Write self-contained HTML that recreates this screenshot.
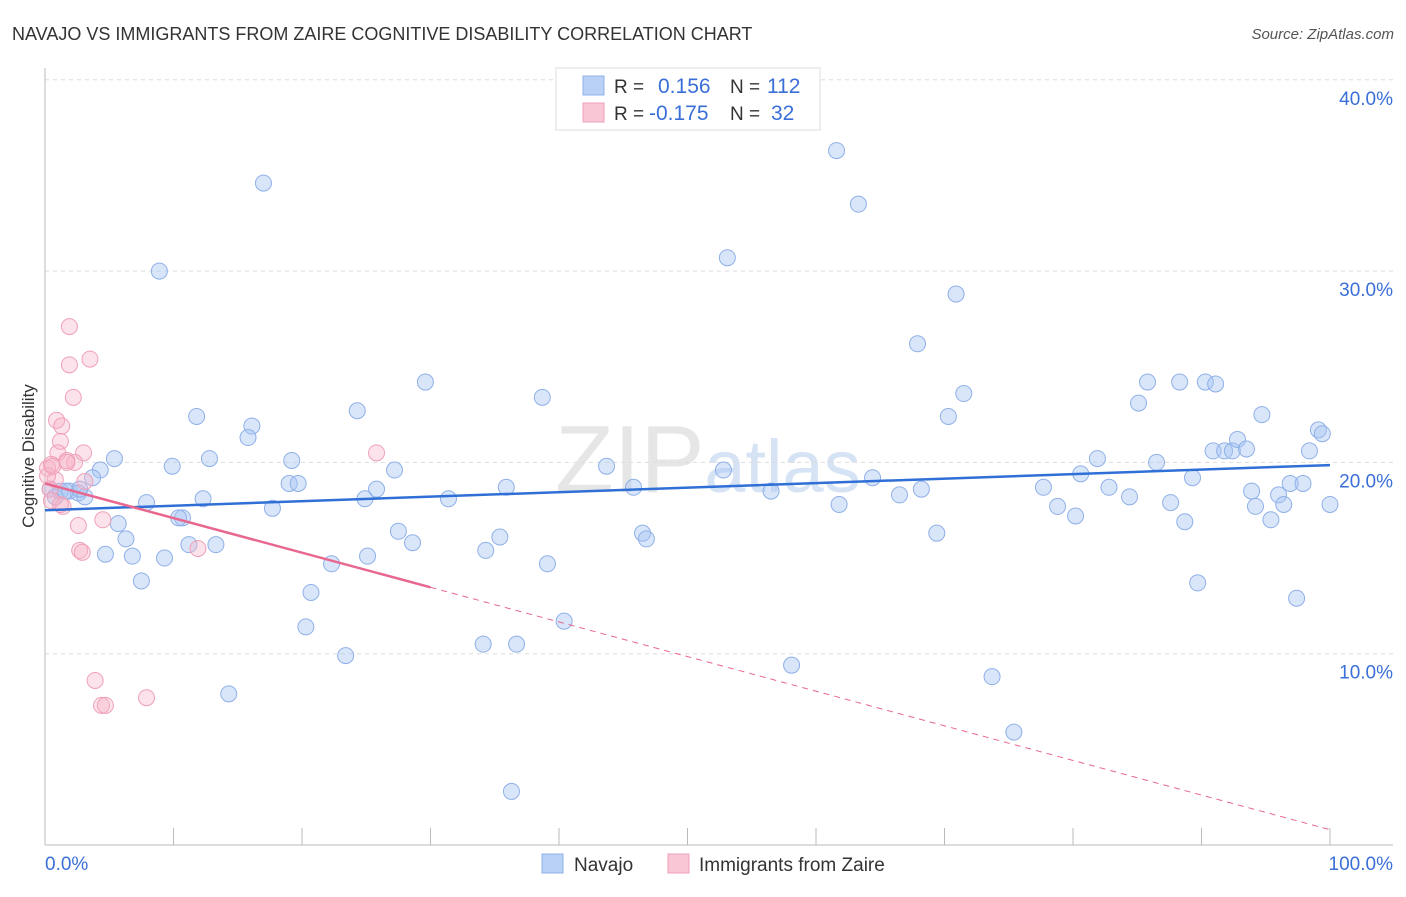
<!DOCTYPE html>
<html><head><meta charset="utf-8"><style>
body{margin:0;background:#fff;font-family:"Liberation Sans",sans-serif;}
svg text{font-family:"Liberation Sans",sans-serif;}
</style></head><body>
<svg id="chart" width="1406" height="892" xmlns="http://www.w3.org/2000/svg">
<text x="12" y="40" font-size="18" fill="#333">NAVAJO VS IMMIGRANTS FROM ZAIRE COGNITIVE DISABILITY CORRELATION CHART</text>
<text x="1394" y="39" font-size="15" fill="#555" font-style="italic" text-anchor="end">Source: ZipAtlas.com</text>
<text x="555" y="492" font-size="96" fill="#e6e6e6" font-family="Liberation Serif">ZIP<tspan fill="#d5e3f5" font-family="Liberation Sans" font-size="74">atlas</tspan></text>
<g id="grid"></g>
<g id="axes"></g>
<g id="marks"></g>
<text transform="translate(34,456) rotate(-90)" font-size="17" fill="#333" text-anchor="middle">Cognitive Disability</text>
<g>
<rect x="556" y="68" width="264" height="62" fill="#fff" stroke="#ddd"/>
<rect x="583" y="76" width="21" height="19" fill="#b9d1f5" stroke="#8fb0e8"/>
<rect x="583" y="103" width="21" height="19" fill="#f9c6d5" stroke="#f0a0b8"/>
<text x="614" y="93" font-size="19" fill="#333">R =</text>
<text x="658" y="93" font-size="21" fill="#3a6fd8">0.156</text>
<text x="730" y="93" font-size="19" fill="#333">N =</text>
<text x="767" y="93" font-size="21" fill="#3a6fd8">112</text>
<text x="614" y="120" font-size="19" fill="#333">R =</text>
<text x="649" y="120" font-size="21" fill="#3a6fd8">-0.175</text>
<text x="730" y="120" font-size="19" fill="#333">N =</text>
<text x="771" y="120" font-size="21" fill="#3a6fd8">32</text>
</g>
<g>
<rect x="542" y="854" width="21" height="19" fill="#b9d1f5" stroke="#8fb0e8"/>
<text x="574" y="871" font-size="19" fill="#333">Navajo</text>
<rect x="668" y="854" width="21" height="19" fill="#f9c6d5" stroke="#f0a0b8"/>
<text x="699" y="871" font-size="19" fill="#333">Immigrants from Zaire</text>
</g>
</svg>
<script>
const yTicks=[10,20,30,40];
const yTickLabels=["10.0%","20.0%","30.0%","40.0%"];
const xTicks=[0,10,20,30,40,50,60,70,80,90,100];
const navajoX=[17.0,8.9,61.6,63.3,53.1,70.9,67.9,29.6,38.7,11.8,16.1,24.3,15.8,5.4,12.8,9.9,4.3,19.2,27.2,19.0,19.7,25.8,24.9,31.4,35.9,43.7,45.8,52.8,56.5,61.8,64.4,66.5,68.2,70.3,71.5,69.4,77.7,78.8,80.2,80.6,81.9,82.8,84.4,85.1,85.8,86.5,87.6,88.3,88.7,89.3,90.3,91.1,90.9,91.8,92.4,92.8,93.5,93.9,94.2,94.7,95.4,96.0,96.4,96.9,97.9,98.4,99.1,99.4,100.0,89.7,97.4,73.7,75.4,58.1,36.3,34.1,36.7,40.4,39.1,34.3,35.4,27.5,28.6,25.1,22.3,20.7,20.3,23.4,14.3,7.5,6.8,4.7,6.3,5.7,9.3,11.2,13.3,10.7,10.4,7.9,12.3,17.7,46.5,46.8,0.4,1.2,1.9,2.6,3.1,3.7,0.8,2.7,1.6];
const navajoY=[34.6,30.0,36.3,33.5,30.7,28.8,26.2,24.2,23.4,22.4,21.9,22.7,21.3,20.2,20.2,19.8,19.6,20.1,19.6,18.9,18.9,18.6,18.1,18.1,18.7,19.8,18.7,19.6,18.5,17.8,19.2,18.3,18.6,22.4,23.6,16.3,18.7,17.7,17.2,19.4,20.2,18.7,18.2,23.1,24.2,20.0,17.9,24.2,16.9,19.2,24.2,24.1,20.6,20.6,20.6,21.2,20.7,18.5,17.7,22.5,17.0,18.3,17.8,18.9,18.9,20.6,21.7,21.5,17.8,13.7,12.9,8.8,5.9,9.4,2.8,10.5,10.5,11.7,14.7,15.4,16.1,16.4,15.8,15.1,14.7,13.2,11.4,9.9,7.9,13.8,15.1,15.2,16.0,16.8,15.0,15.7,15.7,17.1,17.1,17.9,18.1,17.6,16.3,16.0,18.6,18.5,18.5,18.4,18.2,19.2,18.2,18.6,18.5];
const zaireX=[1.9,3.5,1.9,2.2,0.9,1.3,1.2,3.0,1.0,1.7,2.3,0.2,0.5,0.8,3.1,0.4,0.5,1.4,1.2,4.5,2.6,2.7,2.9,11.9,25.8,3.9,4.4,4.7,7.9,1.7,0.2,0.6];
const zaireY=[27.1,25.4,25.1,23.4,22.2,21.9,21.1,20.5,20.5,20.1,20.0,19.7,19.9,19.1,19.0,18.6,18.0,17.7,17.8,17.0,16.7,15.4,15.3,15.5,20.5,8.6,7.3,7.3,7.7,20.0,19.3,19.8];
const navajoTrend=[17.5,19.86];
const zaireTrend=[18.9,0.8];
const zaireSolidEnd=30;

const X0=45,X1=1330,Y0=845,PXPCT=19.13;
const sx=v=>X0+(X1-X0)*v/100;
const sy=v=>Y0-v*PXPCT;
const NS="http://www.w3.org/2000/svg";
function mk(tag,attrs,parent){const e=document.createElementNS(NS,tag);for(const k in attrs)e.setAttribute(k,attrs[k]);parent.appendChild(e);return e;}
const grid=document.getElementById('grid'),axes=document.getElementById('axes'),marks=document.getElementById('marks');
yTicks.forEach((t,i)=>{
  const l=mk('line',{x1:X0,x2:1393,y1:sy(t),y2:sy(t),stroke:'#ddd','stroke-dasharray':'4,4'},grid);
  
  
  const tx=mk('text',{x:1393,y:sy(t)+25,'font-size':19,fill:'#3a6fd8','text-anchor':'end'},axes);
  tx.textContent=yTickLabels[i];
  
  
});
const ax=mk('line',{x1:X0,x2:1393,y1:Y0,y2:Y0,stroke:'#bbb'},axes);


const ay=mk('line',{x1:X0,x2:X0,y1:68,y2:Y0,stroke:'#bbb'},axes);


xTicks.forEach(t=>{
  const l=mk('line',{x1:sx(t),x2:sx(t),y1:828,y2:Y0,stroke:'#bbb'},axes);
  
  
});
const xl=mk('text',{x:45,y:870,'font-size':19,fill:'#3a6fd8'},axes);xl.textContent='0.0%';


const xr=mk('text',{x:1393,y:870,'font-size':19,fill:'#3a6fd8','text-anchor':'end'},axes);xr.textContent='100.0%';



navajoX.forEach((v,i)=>{
  const c=mk('circle',{cx:sx(v),cy:sy(navajoY[i]),r:8,fill:'rgba(165,195,242,0.42)',stroke:'#8fb0e8','stroke-width':1},marks);
  
  
});
zaireX.forEach((v,i)=>{
  const c=mk('circle',{cx:sx(v),cy:sy(zaireY[i]),r:8,fill:'rgba(247,178,200,0.38)',stroke:'#f0a0b8','stroke-width':1},marks);
  
  
});
const bt=mk('line',{x1:sx(0),y1:sy(navajoTrend[0]),x2:sx(100),y2:sy(navajoTrend[1]),stroke:'#2f6fd6','stroke-width':2.5},marks);


const zAt=x=>zaireTrend[0]+(zaireTrend[1]-zaireTrend[0])*x/100;
const pt=mk('line',{x1:sx(0),y1:sy(zaireTrend[0]),x2:sx(zaireSolidEnd),y2:sy(zAt(zaireSolidEnd)),stroke:'#e8678f','stroke-width':2.5},marks);


const pd=mk('line',{x1:sx(zaireSolidEnd),y1:sy(zAt(zaireSolidEnd)),x2:sx(100),y2:sy(zaireTrend[1]),stroke:'#e8678f','stroke-width':1,'stroke-dasharray':'6,5'},marks);


</script>
</body></html>
